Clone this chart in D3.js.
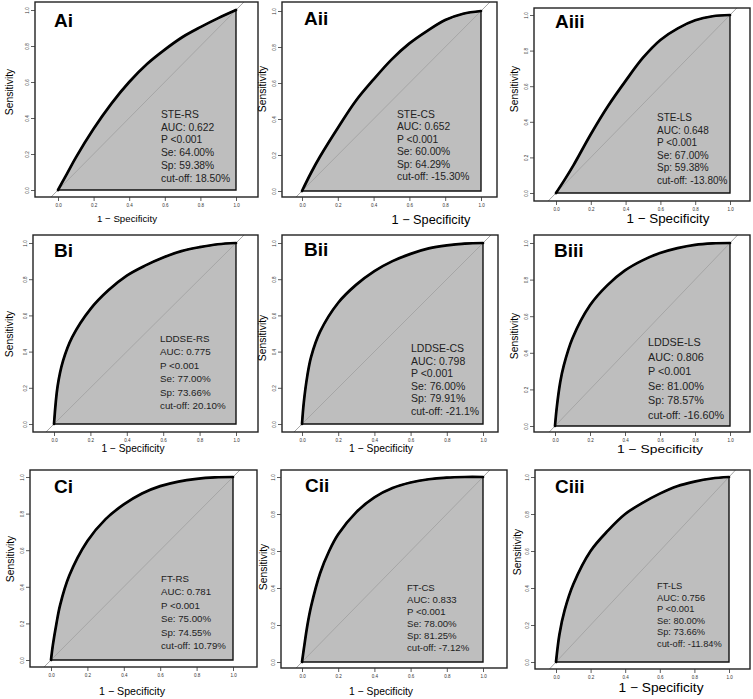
<!DOCTYPE html>
<html>
<head>
<meta charset="utf-8">
<script src="https://cdn.jsdelivr.net/npm/d3@7"></script>
<style>
  body { margin: 0; background: #fff; }
  text { font-family: "Liberation Sans", Arial, sans-serif; }
</style>
</head>
<body>
<div id="roc"></div>
<script>

// panel names and the numbers printed inside each panel
var panelIds = ["Ai", "Aii", "Aiii", "Bi", "Bii", "Biii", "Ci", "Cii", "Ciii"];
var markers = ["STE-RS", "STE-CS", "STE-LS", "LDDSE-RS", "LDDSE-CS", "LDDSE-LS", "FT-RS", "FT-CS", "FT-LS"];
var aucs = ["0.622", "0.652", "0.648", "0.775", "0.798", "0.806", "0.781", "0.833", "0.756"];
var pValues = ["<0.001", "<0.001", "<0.001", "<0.001", "<0.001", "<0.001", "<0.001", "<0.001", "<0.001"];
var sens = ["64.00%", "60.00%", "67.00%", "77.00%", "76.00%", "81.00%", "75.00%", "78.00%", "80.00%"];
var spec = ["59.38%", "64.29%", "59.38%", "73.66%", "79.91%", "78.57%", "74.55%", "81.25%", "73.66%"];
var cutoffs = ["18.50%", "-15.30%", "-13.80%", "20.10%", "-21.1%", "-16.60%", "10.79%", "-7.12%", "-11.84%"];

// axis ticks
var tickValues = [0, 0.2, 0.4, 0.6, 0.8, 1];
var tickLabels = ["0.0", "0.2", "0.4", "0.6", "0.8", "1.0"];

// smoothed ROC curves, [1 - specificity, sensitivity]
var rocAi = [[0,0],[0.05,0.09],[0.1,0.18],[0.2,0.34],[0.3,0.48],[0.4,0.6],[0.5,0.7],[0.6,0.78],[0.7,0.85],[0.8,0.905],[0.9,0.955],[1,1]];
var rocAii = [[0,0],[0.05,0.1],[0.1,0.19],[0.2,0.35],[0.3,0.5],[0.4,0.62],[0.5,0.73],[0.6,0.82],[0.7,0.89],[0.8,0.95],[0.9,0.985],[1,1]];
var rocAiii = [[0,0],[0.05,0.075],[0.1,0.155],[0.2,0.33],[0.3,0.49],[0.4,0.63],[0.5,0.76],[0.6,0.86],[0.7,0.925],[0.8,0.97],[0.9,0.993],[1,1]];
var rocBi = [[0,0],[0.02,0.21],[0.05,0.35],[0.1,0.48],[0.2,0.635],[0.3,0.74],[0.4,0.82],[0.5,0.875],[0.6,0.92],[0.7,0.955],[0.8,0.977],[0.9,0.993],[1,1]];
var rocBii = [[0,0],[0.01,0.12],[0.03,0.27],[0.05,0.37],[0.1,0.51],[0.2,0.67],[0.3,0.77],[0.4,0.845],[0.5,0.9],[0.6,0.94],[0.7,0.97],[0.8,0.987],[0.9,0.997],[1,1]];
var rocBiii = [[0,0],[0.01,0.1],[0.03,0.24],[0.05,0.33],[0.1,0.48],[0.2,0.66],[0.3,0.77],[0.4,0.85],[0.5,0.905],[0.6,0.945],[0.7,0.972],[0.8,0.99],[0.9,0.998],[1,1]];
var rocCi = [[0,0],[0.01,0.08],[0.03,0.2],[0.05,0.3],[0.1,0.46],[0.2,0.65],[0.3,0.77],[0.4,0.85],[0.5,0.91],[0.6,0.95],[0.7,0.975],[0.8,0.99],[0.9,0.998],[1,1]];
var rocCii = [[0,0],[0.01,0.07],[0.03,0.2],[0.05,0.3],[0.1,0.48],[0.15,0.6],[0.2,0.69],[0.3,0.81],[0.4,0.89],[0.5,0.94],[0.6,0.97],[0.7,0.988],[0.8,0.997],[0.9,1],[1,1]];
var rocCiii = [[0,0],[0.02,0.15],[0.05,0.28],[0.1,0.42],[0.2,0.6],[0.3,0.71],[0.4,0.8],[0.5,0.86],[0.6,0.91],[0.7,0.95],[0.8,0.975],[0.9,0.992],[1,1]];
var curves = [rocAi, rocAii, rocAiii, rocBi, rocBii, rocBiii, rocCi, rocCii, rocCiii];

// where each panel sits on the page (the figure is a pasted-together grid)
// box = frame [l,t,r,b], xr/yr = pixel of value 0 and 1, lab = panel letter,
// ann = [x, first baseline, line step, font], xt = [centre, baseline, length, font], yt = [baseline x, centre]
var layout = [
  {box:[35,2,258,197],   xr:[58,236],  yr:[190,10],  lab:[54,27],   ann:[161,118,12.7,10.3], xt:[127,222,60,9.7],  yt:[13,92]},
  {box:[282,2,497,197],  xr:[302,481], yr:[191,11],  lab:[304,25],  ann:[397,118,12.4,10.3], xt:[431,224,79,12.4], yt:[266,89]},
  {box:[534,8,750,201],  xr:[556,730], yr:[193,15],  lab:[555,28],  ann:[657,121,12.6,10],   xt:[668,223,83,12.8], yt:[518,89]},
  {box:[33,235,258,432], xr:[54,236],  yr:[424,243], lab:[54,257],  ann:[160,342,13.4,9.8],  xt:[133,452,63,10.2], yt:[13,334]},
  {box:[282,235,498,432],xr:[302,483], yr:[424,243], lab:[304,256], ann:[411,352,12.6,10.5], xt:[381,452,64,10.3], yt:[266,338]},
  {box:[534,235,750,432],xr:[555,730], yr:[426,243], lab:[554,257], ann:[648,346,14.6,10.8], xt:[660,453,86,11.5], yt:[518,336]},
  {box:[30,470,257,667], xr:[51,233],  yr:[660,477], lab:[54,493],  ann:[161,582,13.4,9.7],  xt:[132,695,66,10.6], yt:[14,559]},
  {box:[281,470,507,668],xr:[302,483], yr:[662,477], lab:[305,492], ann:[407,591,11.9,9.6],  xt:[381,695,64,10.3], yt:[267,567]},
  {box:[535,470,750,669],xr:[556,729], yr:[662,477], lab:[555,493], ann:[657,589,11.6,9.3],  xt:[661,692,85,12.5], yt:[521,552]}
];

var svg = d3.select("#roc")
  .append("svg")
    .attr("width", 753)
    .attr("height", 699);

panelIds.forEach(function(id, i) {
  var L = layout[i];
  var x = d3.scaleLinear().domain([0, 1]).range(L.xr);
  var y = d3.scaleLinear().domain([0, 1]).range(L.yr);
  var g = svg.append("g");

  // clip the reference diagonal to the frame
  g.append("clipPath")
    .attr("id", "clip" + id)
    .append("rect")
      .attr("x", L.box[0]).attr("y", L.box[1])
      .attr("width", L.box[2] - L.box[0]).attr("height", L.box[3] - L.box[1]);

  // grey area under the curve
  var area = d3.area()
    .x(function(d) { return x(d[0]); })
    .y0(y(0))
    .y1(function(d) { return y(d[1]); })
    .curve(d3.curveCatmullRom.alpha(0.5));
  g.append("path")
    .datum(curves[i])
    .attr("d", area)
    .attr("fill", "#bebebe")
    .attr("stroke", "#111")
    .attr("stroke-width", 1.4);

  // chance line
  g.append("line")
    .attr("clip-path", "url(#clip" + id + ")")
    .attr("x1", x(-0.5)).attr("y1", y(-0.5))
    .attr("x2", x(1.5)).attr("y2", y(1.5))
    .attr("stroke", "#a6a6a6")
    .attr("stroke-width", 1);

  // the ROC curve itself
  var line = d3.line()
    .x(function(d) { return x(d[0]); })
    .y(function(d) { return y(d[1]); })
    .curve(d3.curveCatmullRom.alpha(0.5));
  g.append("path")
    .datum(curves[i])
    .attr("d", line)
    .attr("fill", "none")
    .attr("stroke", "#000")
    .attr("stroke-width", 2.7)
    .attr("stroke-linecap", "round");

  // frame
  g.append("rect")
    .attr("x", L.box[0]).attr("y", L.box[1])
    .attr("width", L.box[2] - L.box[0]).attr("height", L.box[3] - L.box[1])
    .attr("fill", "none")
    .attr("stroke", "#222")
    .attr("stroke-width", 1.4);

  // bottom axis
  var xAxis = g.append("g")
    .attr("transform", "translate(0," + L.box[3] + ")")
    .call(d3.axisBottom(x).tickValues(tickValues)
      .tickFormat(function(d, k) { return tickLabels[k]; })
      .tickSize(4).tickPadding(3));
  xAxis.select(".domain").remove();
  xAxis.selectAll("line").attr("stroke", "#333").attr("stroke-width", 0.8);
  xAxis.selectAll("text")
    .attr("font-size", 4.5)
    .attr("fill", "#333")
    .style("font-family", "Liberation Sans, Arial, sans-serif");

  // left axis, labels turned to run along the axis
  var yAxis = g.append("g")
    .attr("transform", "translate(" + L.box[0] + ",0)")
    .call(d3.axisLeft(y).tickValues(tickValues)
      .tickFormat(function(d, k) { return tickLabels[k]; })
      .tickSize(4));
  yAxis.select(".domain").remove();
  yAxis.selectAll("line").attr("stroke", "#333").attr("stroke-width", 0.8);
  yAxis.selectAll("text")
    .attr("transform", "rotate(-90)")
    .attr("x", 0)
    .attr("y", -6.5)
    .attr("dy", null)
    .attr("text-anchor", "middle")
    .attr("font-size", 4.5)
    .attr("fill", "#333")
    .style("font-family", "Liberation Sans, Arial, sans-serif");

  // axis titles
  g.append("text")
    .attr("x", L.xt[0])
    .attr("y", L.xt[1])
    .attr("text-anchor", "middle")
    .attr("font-size", L.xt[3])
    .attr("textLength", L.xt[2])
    .attr("lengthAdjust", "spacingAndGlyphs")
    .text("1 \u2212 Specificity");

  g.append("text")
    .attr("transform", "translate(" + L.yt[0] + "," + L.yt[1] + ") rotate(-90)")
    .attr("text-anchor", "middle")
    .attr("font-size", 10.3)
    .text("Sensitivity");

  // panel letter
  g.append("text")
    .attr("x", L.lab[0])
    .attr("y", L.lab[1])
    .attr("font-size", 19)
    .attr("font-weight", "bold")
    .text(id);

  // statistics block
  var lines = [markers[i], "AUC: " + aucs[i], "P " + pValues[i],
               "Se: " + sens[i], "Sp: " + spec[i], "cut-off: " + cutoffs[i]];
  g.selectAll("text.stat")
    .data(lines)
    .enter()
    .append("text")
      .attr("class", "stat")
      .attr("x", L.ann[0])
      .attr("y", function(d, k) { return L.ann[1] + k * L.ann[2]; })
      .attr("font-size", L.ann[3])
      .attr("fill", "#222")
      .text(function(d) { return d; });
});

</script>
</body>
</html>
